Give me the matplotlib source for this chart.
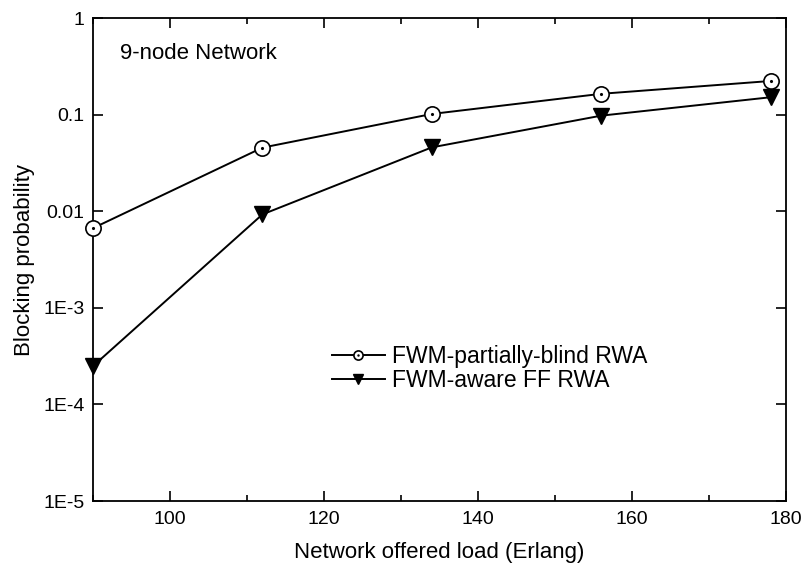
import matplotlib
matplotlib.use("Agg")
import matplotlib.pyplot as plt
from matplotlib.ticker import FixedLocator, MultipleLocator, FixedFormatter, NullLocator

plt.rcParams['font.family'] = ['Liberation Sans', 'DejaVu Sans']

# offered load (Erlang) and blocking probability per scheme
load = [90, 112, 134, 156, 178]
blind_rwa = [0.0067, 0.0457, 0.102, 0.165, 0.224]
aware_ff_rwa = [0.00025, 0.0093, 0.046, 0.098, 0.152]

y_ticks = [1e-5, 1e-4, 1e-3, 1e-2, 1e-1, 1]
y_labels = ["1E-5", "1E-4", "1E-3", "0.01", "0.1", "1"]

fig = plt.figure(figsize=(8.04, 5.7), dpi=100)
ax = fig.add_axes([0.1157, 0.121, 0.862, 0.847])

l1, = ax.plot(load, blind_rwa, color="black", lw=1.4, marker="o", ms=11,
              mfc="white", mec="black", mew=1.2, clip_on=False, zorder=3)
d1, = ax.plot(load, blind_rwa, ls="none", marker=".", ms=2.5, color="black",
              clip_on=False, zorder=4)
l2, = ax.plot(load, aware_ff_rwa, color="black", lw=1.4, marker="v", ms=11,
              mfc="black", mec="black", clip_on=False, zorder=3)

ax.set_yscale("log")
ax.set_xlim(90, 180)
ax.set_ylim(1e-5, 1)
ax.yaxis.set_major_locator(FixedLocator(y_ticks))
ax.yaxis.set_major_formatter(FixedFormatter(y_labels))
ax.yaxis.set_minor_locator(NullLocator())
ax.xaxis.set_major_locator(MultipleLocator(20))
ax.xaxis.set_minor_locator(MultipleLocator(10))

ax.tick_params(which="both", direction="in", top=True, right=True,
               labelsize=14, width=1.2, colors="black")
ax.tick_params(which="major", length=7)
ax.tick_params(which="minor", length=4)
ax.tick_params(axis="x", pad=7)
ax.tick_params(axis="y", pad=6)
for s in ax.spines.values():
    s.set_linewidth(1.3)

ax.set_xlabel("Network offered load (Erlang)", fontsize=16, labelpad=10)
ax.set_ylabel("Blocking probability", fontsize=16, labelpad=6)

ax.text(0.039, 0.927, "9-node Network", transform=ax.transAxes, fontsize=16,
        va="center", ha="left")

ax.legend([(l1, d1), l2], ["FWM-partially-blind RWA", "FWM-aware FF RWA"],
          loc="center left", bbox_to_anchor=(0.345, 0.275), frameon=False,
          fontsize=16.5, handlelength=2.3, handletextpad=0.3,
          labelspacing=0.05, markerscale=0.6, borderpad=0, borderaxespad=0)

fig.savefig("out.png", dpi=100)
